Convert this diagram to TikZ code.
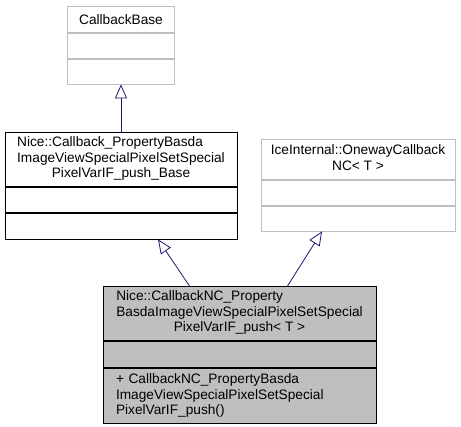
\documentclass[tikz,border=0pt]{standalone}
\usepackage{fontspec}
\setmainfont{Liberation Sans}
\usetikzlibrary{arrows.meta, positioning}
\definecolor{grey75}{RGB}{191,191,191}
\definecolor{midnight}{RGB}{25,25,112}

\tikzset{
  umlbox/.style={draw=black, fill=white, line width=0.8pt, inner sep=0pt,
    font=\fontsize{13.7}{15.5}\selectfont, align=center},
  lightbox/.style={umlbox, draw=grey75},
  darkbox/.style={umlbox, fill=grey75},
  inherit/.style={draw=midnight, line width=0.8pt,
    -{Triangle[open, length=14pt, width=12pt]}}
}

\begin{document}
\begin{tikzpicture}[x=1pt, y=-1pt]
  \useasboundingbox (0,0) rectangle (461,427);

  % CallbackBase
  \node[lightbox, minimum width=107pt, minimum height=26pt, anchor=north] (cb) at (121,6) {CallbackBase};
  \node[lightbox, minimum width=107pt, minimum height=25pt, below=0pt of cb] (cb-attr) {};
  \node[lightbox, minimum width=107pt, minimum height=25pt, below=0pt of cb-attr] (cb-meth) {};

  % Nice::Callback_..._Base
  \node[umlbox, minimum width=232pt, minimum height=54pt, anchor=north] (base) at (121,132)
    {\begin{tabular}{@{}l@{}}Nice::Callback\_PropertyBasda\\ImageViewSpecialPixelSetSpecial\\
     \multicolumn{1}{@{}c@{}}{PixelVarIF\_push\_Base}\end{tabular}};
  \node[umlbox, minimum width=232pt, minimum height=25pt, below=0pt of base] (base-attr) {};
  \node[umlbox, minimum width=232pt, minimum height=26pt, below=0pt of base-attr] (base-meth) {};

  % IceInternal::OnewayCallbackNC
  \node[lightbox, minimum width=194pt, minimum height=40pt, anchor=north] (ice) at (358,139)
    {\begin{tabular}{@{}l@{}}IceInternal::OnewayCallback\\
     \multicolumn{1}{@{}c@{}}{NC< T >}\end{tabular}};
  \node[lightbox, minimum width=194pt, minimum height=25pt, below=0pt of ice] (ice-attr) {};
  \node[lightbox, minimum width=194pt, minimum height=25pt, below=0pt of ice-attr] (ice-meth) {};

  % Nice::CallbackNC_... (the class itself)
  \node[darkbox, minimum width=273pt, minimum height=54pt, anchor=north] (nc) at (239.5,286)
    {\begin{tabular}{@{}l@{}}Nice::CallbackNC\_Property\\BasdaImageViewSpecialPixelSetSpecial\\
     \multicolumn{1}{@{}c@{}}{PixelVarIF\_push< T >}\end{tabular}};
  \node[darkbox, minimum width=273pt, minimum height=26pt, below=0pt of nc] (nc-attr) {};
  \node[darkbox, minimum width=273pt, minimum height=55pt, text width=247pt, align=left,
    below=0pt of nc-attr] (nc-meth)
    {+ CallbackNC\_PropertyBasda\\ImageViewSpecialPixelSetSpecial\\PixelVarIF\_push()};

  % inheritance
  \draw[inherit] (base.north) -- (cb-meth.south);
  \draw[inherit] ([xshift=-50pt]nc.north) -- ([xshift=37pt]base-meth.south);
  \draw[inherit] ([xshift=48pt]nc.north) -- ([xshift=-36pt]ice-meth.south);
\end{tikzpicture}
\end{document}
